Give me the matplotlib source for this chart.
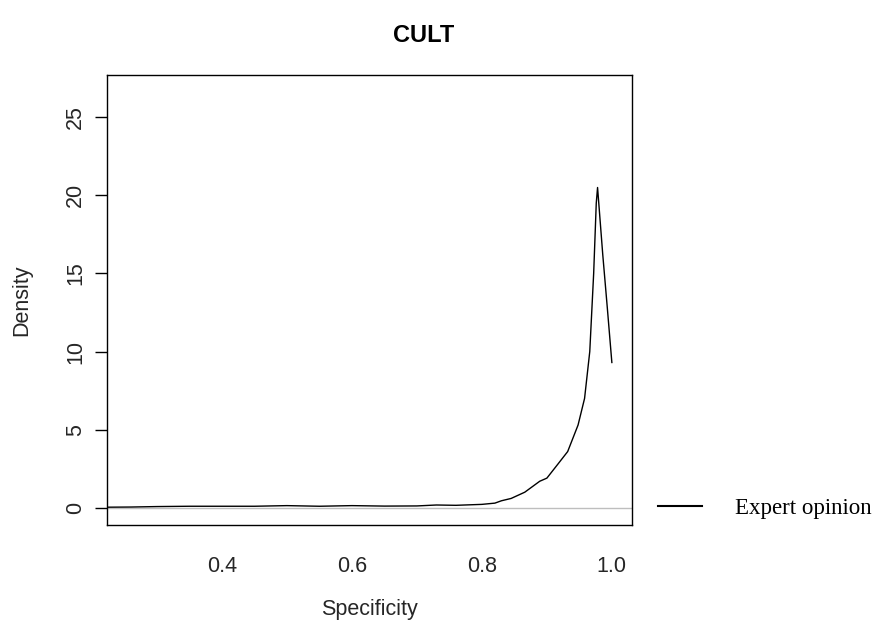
import numpy as np
import matplotlib.pyplot as plt
from matplotlib.lines import Line2D

# ─── Density estimate for specificity (expert opinion prior) ─────────────────
spec = [0.225, 0.26, 0.30, 0.35, 0.40, 0.45, 0.50, 0.55, 0.60, 0.65,
        0.70, 0.73, 0.76, 0.80, 0.82, 0.83, 0.845, 0.866, 0.889, 0.90,
        0.917, 0.932, 0.948, 0.958, 0.966, 0.972, 0.976, 0.978, 0.986,
        0.993, 1.0]
dens = [0.04, 0.05, 0.08, 0.10, 0.10, 0.10, 0.14, 0.10, 0.14, 0.11,
        0.12, 0.18, 0.16, 0.22, 0.30, 0.45, 0.60, 1.0, 1.7, 1.9,
        2.8, 3.6, 5.3, 7.0, 10.0, 15.0, 19.5, 20.5, 16.2,
        12.8, 9.3]

XTICKS = [0.4, 0.6, 0.8, 1.0]
YTICKS = [0, 5, 10, 15, 20, 25]

SANS  = ["Liberation Sans", "DejaVu Sans"]
SERIF = ["Liberation Serif", "DejaVu Serif"]
TXT   = "#262626"

fig = plt.figure(figsize=(8.79, 6.28), dpi=100)
ax  = fig.add_axes([107 / 879, 103 / 628, 525 / 879, 450 / 628])

ax.axhline(0, color="#bebebe", linewidth=1.0, zorder=1)
ax.plot(spec, dens, color="black", linewidth=1.0, zorder=2)

ax.set_xlim(0.223, 1.031)
ax.set_ylim(-1.1, 27.7)

ax.set_xticks(XTICKS)
ax.set_xticklabels([f"{v:.1f}" for v in XTICKS], family=SANS, fontsize=15.5,
                   color=TXT)
ax.set_yticks(YTICKS)
ax.set_yticklabels([str(v) for v in YTICKS], family=SANS, fontsize=15.5,
                   color=TXT, rotation=90, va="center")
ax.tick_params(axis="x", length=0, pad=22)
ax.tick_params(axis="y", length=9, width=1, pad=6)

for sp in ax.spines.values():
    sp.set_linewidth(1.0)

ax.set_xlabel("Specificity", family=SANS, fontsize=15.5, color=TXT,
              labelpad=16)
ax.set_ylabel("Density", family=SANS, fontsize=15.5, color=TXT,
              labelpad=24)
fig.text(424 / 879, 1 - 35 / 628, "CULT", family=SANS, fontsize=17,
         fontweight="bold", ha="center", va="center")

handle = Line2D([], [], color="black", linewidth=1.5)
ax.legend([handle], ["Expert opinion"], loc="center left",
          bbox_to_anchor=(658 / 879, 1 - 508 / 628),
          bbox_transform=fig.transFigure, frameon=False,
          prop={"family": SERIF, "size": 16.5}, borderpad=0,
          borderaxespad=0, handlelength=1.9, handletextpad=1.45)

plt.savefig("out.png", dpi=100)
